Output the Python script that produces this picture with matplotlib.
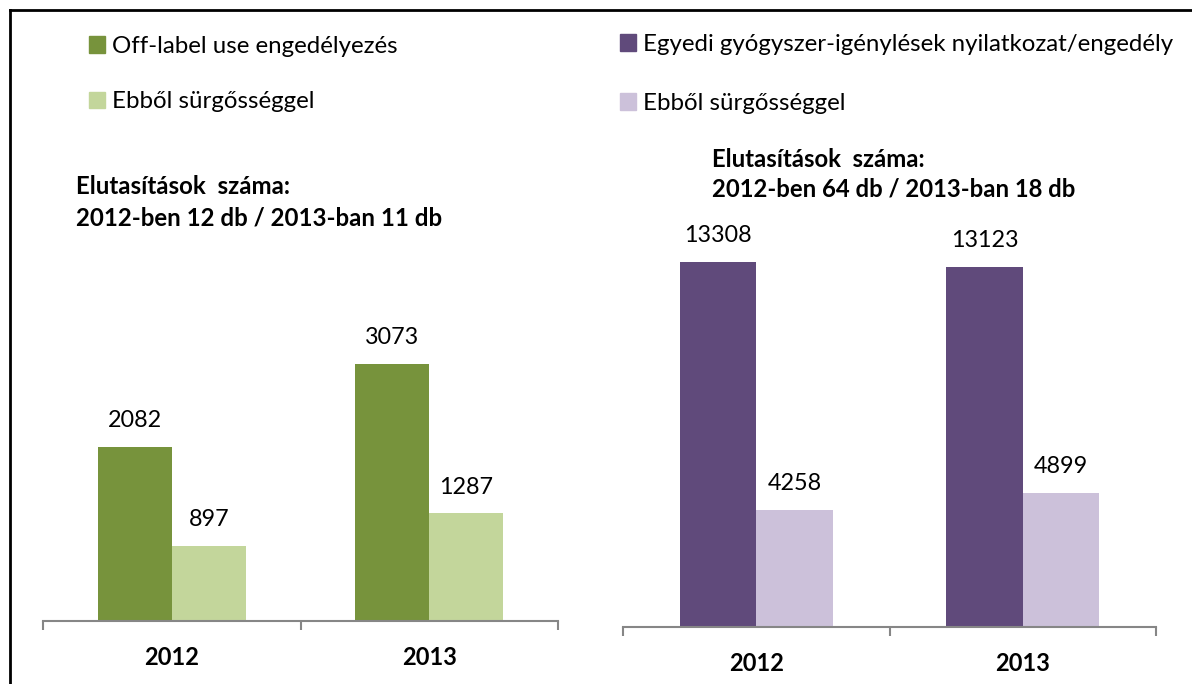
import matplotlib.pyplot as plt
from matplotlib.patches import Patch

years = ["2012", "2013"]
offlabel = [2082, 3073]
offlabel_urgent = [897, 1287]
egyedi = [13308, 13123]
egyedi_urgent = [4258, 4899]

left_labels = ["Off-label use engedélyezés", "Ebből sürgősséggel"]
right_labels = ["Egyedi gyógyszer-igénylések nyilatkozat/engedély", "Ebből sürgősséggel"]
left_note = "Elutasítások  száma:\n2012-ben 12 db / 2013-ban 11 db"
right_note = "Elutasítások  száma:\n2012-ben 64 db / 2013-ban 18 db"

GREEN = "#77933C"
GREEN_L = "#C3D69B"
PURPLE = "#604A7B"
PURPLE_L = "#CCC1DA"
AXIS = "#868686"

plt.rcParams['font.family'] = ['Lato', 'DejaVu Sans']

W, H = 1192, 684
fig = plt.figure(figsize=(W / 100, H / 100), dpi=100)


def px_axes(x0, x1, ybot, ytop):
    return fig.add_axes([x0 / W, 1 - ybot / H, (x1 - x0) / W, (ybot - ytop) / H])


def draw(ax, a, b, ca, cb, ymax, labelpad):
    w = 0.287
    x = range(len(years))
    ra = ax.bar([i - w / 2 for i in x], a, w, color=ca)
    rb = ax.bar([i + w / 2 for i in x], b, w, color=cb)
    for rects, vals in ((ra, a), (rb, b)):
        for r, v in zip(rects, vals):
            ax.annotate(str(v), (r.get_x() + r.get_width() / 2, r.get_height()),
                        xytext=(0, 19), textcoords='offset points',
                        ha='center', va='center', fontsize=16.8)
    ax.set_xlim(-0.5, 1.5)
    ax.set_ylim(0, ymax)
    for s in ("left", "right", "top"):
        ax.spines[s].set_visible(False)
    ax.spines["bottom"].set_color(AXIS)
    ax.spines["bottom"].set_linewidth(1.5)
    ax.set_yticks([])
    ax.set_xticks([-0.5, 0.5, 1.5])
    ax.set_xticklabels([])
    ax.tick_params(axis='x', which='major', length=6.5, width=1.5, color=AXIS, direction='out')
    ax.set_xticks([0, 1], minor=True)
    ax.set_xticklabels(years, minor=True, fontweight='bold', fontsize=17)
    ax.tick_params(axis='x', which='minor', length=0, pad=labelpad)
    return ra, rb


axl = px_axes(43, 558, 621, 200)
draw(axl, offlabel, offlabel_urgent, GREEN, GREEN_L, 421 / 0.0836, 18)
axr = px_axes(623, 1156, 627, 200)
draw(axr, egyedi, egyedi_urgent, PURPLE, PURPLE_L, 427 / 0.02743, 18)

leg_kw = dict(loc='upper left', frameon=False, fontsize=17.3, borderpad=0, borderaxespad=0,
              handlelength=0.67, handleheight=0.67, handletextpad=0.28)
fig.legend([Patch(color=GREEN), Patch(color=GREEN_L)], left_labels,
           bbox_to_anchor=(89 / W, 1 - 36 / H), labelspacing=1.42, **leg_kw)
fig.legend([Patch(color=PURPLE), Patch(color=PURPLE_L)], right_labels,
           bbox_to_anchor=(620 / W, 1 - 34 / H), labelspacing=1.58, **leg_kw)

fig.text(76 / W, 1 - 202 / H, left_note, fontsize=17.3, fontweight='bold',
         va='center', ha='left', linespacing=1.46)
fig.text(712 / W, 1 - 174 / H, right_note, fontsize=17.2, fontweight='bold',
         va='center', ha='left', linespacing=1.33)

# border lines top and left
fig.add_artist(plt.Line2D([9.5 / W, 1], [1 - 9.5 / H, 1 - 9.5 / H], color='black', lw=2))
fig.add_artist(plt.Line2D([9.5 / W, 9.5 / W], [0, 1 - 9.5 / H], color='black', lw=2))

fig.savefig("out.png", dpi=100)
